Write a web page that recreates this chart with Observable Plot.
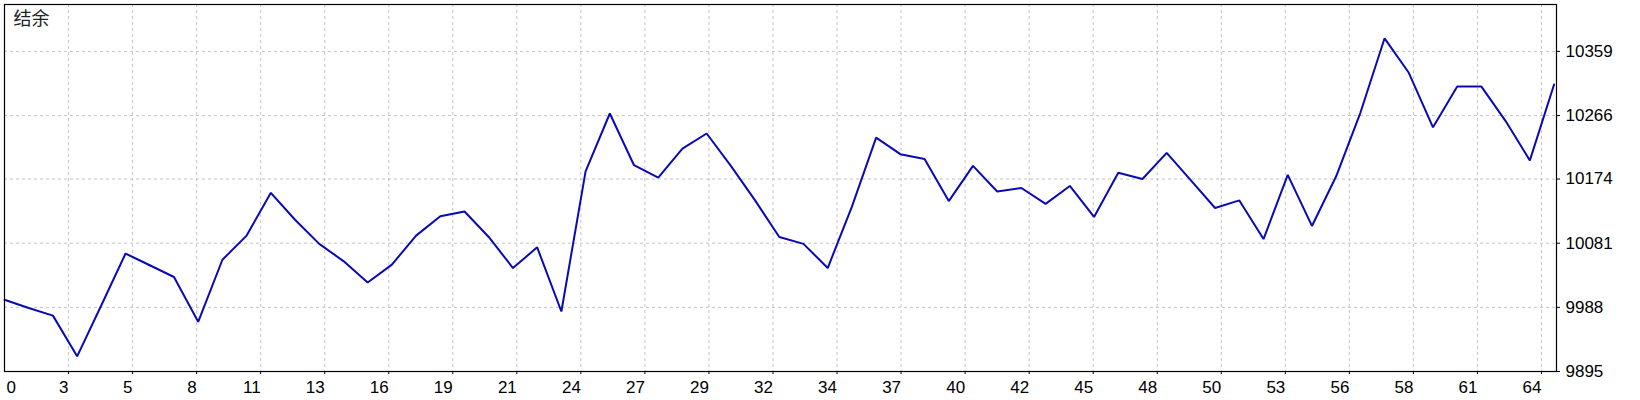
<!DOCTYPE html>
<html>
<head>
<meta charset="utf-8">
<script src="https://cdn.jsdelivr.net/npm/d3@7"></script>
<script src="https://cdn.jsdelivr.net/npm/@observablehq/plot@0.6"></script>
<style>
  html, body { margin: 0; padding: 0; background: #ffffff; }
  #chart svg { display: block; }
</style>
</head>
<body>
<div id="chart"></div>
<script>
// ---- data ----
const title = "结余";
const balance = [
  9999, 9987, 9976, 9917, 9991, 10066, 10049, 10032, 9967, 10057,
  10092, 10154, 10115, 10080, 10055, 10024, 10050, 10092, 10120, 10127,
  10090, 10045, 10075, 9982, 10185, 10269, 10194, 10176, 10218, 10240,
  10193, 10143, 10090, 10080, 10045, 10134, 10234, 10210, 10203, 10142,
  10193, 10156, 10161, 10138, 10164, 10119, 10183, 10174, 10212, 10172,
  10132, 10143, 10087, 10180, 10106, 10178, 10270, 10378, 10328, 10249,
  10308, 10308, 10258, 10201, 10311
];
const tradeIndex = balance.map((_, i) => i);
const xTickLabels = [0, 3, 5, 8, 11, 13, 16, 19, 21, 24, 27, 29, 32, 34, 37, 40, 42, 45, 48, 50, 53, 56, 58, 61, 64];
const xTickStep = 2.645;
const xMax = 64.1;
const yTicks = [9895, 9988, 10081, 10174, 10266, 10359];
const yMin = 9895;
const yMax = 10427;

const rows = tradeIndex.map((i) => ({i, v: balance[i]}));
const xTicks = xTickLabels.map((_, k) => k * xTickStep);
const fmtX = (d) => String(xTickLabels[Math.round(d / xTickStep)]);
const fmtY = (d) => String(d);

const font = "'Liberation Sans', Arial, sans-serif";
const gridStyle = {stroke: "#c4c4c4", strokeOpacity: 1, strokeDasharray: "3,3", strokeWidth: 1};

const chart = Plot.plot({
  width: 1640,
  height: 400,
  marginLeft: 4,
  marginRight: 84,
  marginTop: 4,
  marginBottom: 29,
  style: {fontFamily: font, fontSize: "17px", color: "#000", background: "#fff"},
  x: {domain: [0, xMax]},
  y: {domain: [yMin, yMax]},
  marks: [
    Plot.gridX(xTicks.slice(1), gridStyle),
    Plot.gridY(yTicks.slice(1), gridStyle),
    Plot.line(rows, {x: "i", y: "v", stroke: "#0a0ab4", strokeWidth: 2, strokeLinejoin: "miter"}),
    Plot.frame({stroke: "#000", strokeWidth: 1.2}),
    Plot.axisY(yTicks, {anchor: "right", tickSize: 3, tickPadding: 6, textAnchor: "start", tickFormat: fmtY, fontSize: 17, label: null, stroke: "#000"}),
    Plot.axisX(xTicks.slice(1), {anchor: "bottom", tickSize: 3, tickPadding: 6, textAnchor: "end", tickFormat: fmtX, fontSize: 17, label: null, stroke: "#000"}),
    Plot.axisX(xTicks.slice(0, 1), {anchor: "bottom", tickSize: 0, tickPadding: 9, textAnchor: "start", dx: 2, tickFormat: fmtX, fontSize: 17, label: null}),
    Plot.text([title], {frameAnchor: "top-left", dx: 9, dy: 8, text: (d) => d, fontFamily: "'Noto Sans CJK SC', sans-serif", fontSize: 18, lineAnchor: "top", textAnchor: "start", fill: "#222"})
  ]
});
document.getElementById("chart").appendChild(chart);
</script>
</body>
</html>
